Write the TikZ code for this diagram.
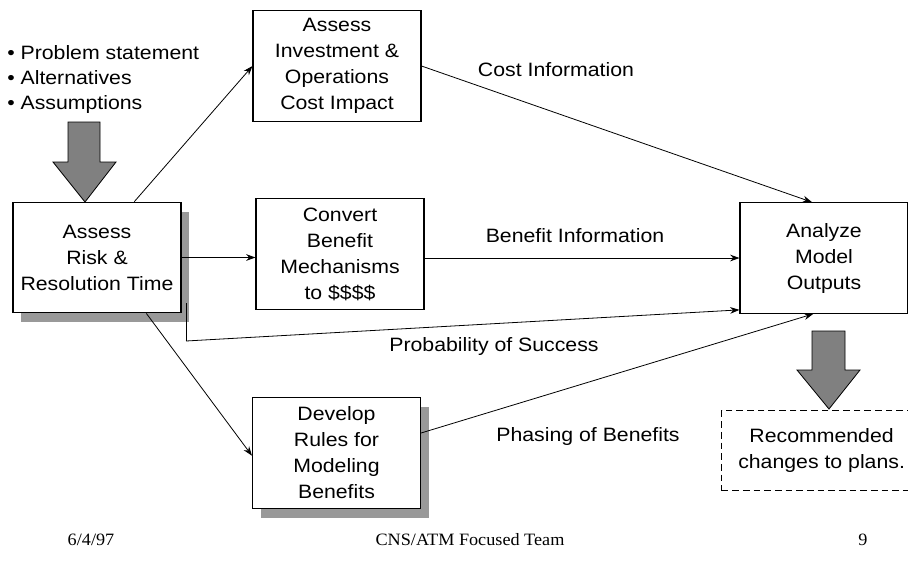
\documentclass[tikz,border=0pt]{standalone}
\usepackage{fontspec}
\setmainfont[FakeStretch=1.1]{Liberation Sans}
\newfontfamily\footfont[FakeStretch=1.05]{Liberation Serif}
\usetikzlibrary{arrows.meta}
\usetikzlibrary{positioning}
\usetikzlibrary{shadows}

\begin{document}
\begin{tikzpicture}[x=0.75pt, y=-0.75pt,
    >={Stealth[length=7pt,width=5pt]},
    every node/.style={font=\fontsize{14.5}{19.5}\selectfont},
    stepbox/.style={draw, fill=white, line width=0.8pt, align=center,
      minimum width=126pt, minimum height=83pt, inner sep=1pt},
    shadowed/.style={copy shadow={shadow xshift=6pt, shadow yshift=-7pt,
      fill=black!40, draw=none}},
    flow/.style={->, line width=0.6pt},
    bigarrow/.style={draw, fill=black!50, line width=0.6pt},
    flowlabel/.style={inner sep=1pt},
    footer/.style={font=\footfont\fontsize{13}{15}\selectfont}]
\path[use as bounding box, clip] (0,0) rectangle (908,562);

% inputs
\node[anchor=west, align=left, inner sep=0pt,
  font=\fontsize{14.5}{18.75}\selectfont] (inputs) at (7,79)
  {\textbullet\ Problem statement\\ \textbullet\ Alternatives\\ \textbullet\ Assumptions};
\draw[bigarrow] (68,122) -- (100,122) -- (100,162) -- (116,162) -- (85,202)
  -- (53,162) -- (68,162) -- cycle;

% process boxes
\node[stepbox, shadowed] (risk) at (97,257.5) {Assess\\Risk \&\\Resolution Time};
\node[stepbox] (invest) at (337,66) {Assess\\Investment \&\\Operations\\Cost Impact};
\node[stepbox] (convert) at (340,254) {Convert\\Benefit\\Mechanisms\\to \$\$\$\$};
\node[stepbox, shadowed] (develop) at (336.5,453) {Develop\\Rules for\\Modeling\\Benefits};
\node[stepbox] (analyze) at (824,258) {Analyze\\Model\\Outputs};

% output
\draw[bigarrow] (812,331) -- (845,331) -- (845,370) -- (860,370) -- (829,409)
  -- (797,370) -- (812,370) -- cycle;
\node[draw, dashed, line width=0.9pt, dash pattern=on 5pt off 3pt,
  anchor=north west, minimum width=150pt, minimum height=60pt, align=center]
  (recommend) at (721,410) {Recommended\\changes to plans.};

% connectors
\draw[flow] ([xshift=28pt]risk.north) -- (invest.west);
\draw[flow] (invest.east) -- ([xshift=-9pt]analyze.north);
\draw[flow] (risk.east) -- (risk.east -| convert.west);
\draw[flow] (analyze.west -| convert.east) -- (analyze.west);
\coordinate (ptop) at (186,303);
\coordinate (pbot) at (186,341);
\draw[line width=0.6pt] (ptop) -- (pbot);
\draw[flow] (pbot) -- ([yshift=3pt]analyze.south west);
\draw[flow] ([xshift=37pt]risk.south) -- ([yshift=-2pt]develop.west);
\draw[flow] ([yshift=15pt]develop.east) -- ([xshift=-8pt]analyze.south);

% labels
\node[flowlabel] (costlbl) at (556,70) {Cost Information};
\node[flowlabel] (benefitlbl) at (575,236) {Benefit Information};
\node[flowlabel] (problbl) at (494,346) {Probability of Success};
\node[flowlabel] (phaselbl) at (588,436) {Phasing of Benefits};

% footer
\node[footer] (date) at (91,540) {6/4/97};
\node[footer] (team) at (470,540) {CNS/ATM Focused Team};
\node[footer] (page) at (863,540) {9};
\end{tikzpicture}
\end{document}
